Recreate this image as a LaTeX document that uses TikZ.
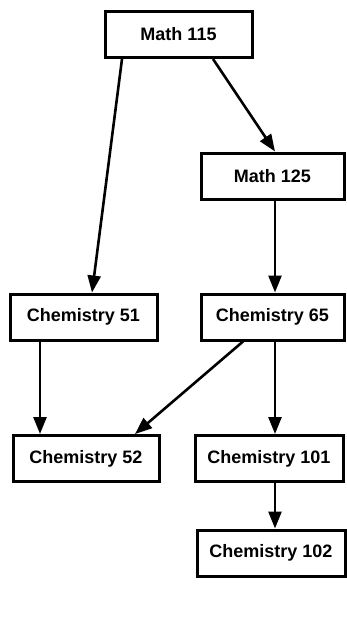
\documentclass[tikz,border=0pt]{standalone}
\usepackage{fontspec}
\setmainfont{Liberation Sans}
\usepackage{tikz}
\usetikzlibrary{arrows.meta}

\begin{document}
\begin{tikzpicture}[x=1pt,y=-1pt,
  course/.style={draw,line width=3pt,minimum height=46pt,inner sep=0pt,font=\bfseries\fontsize{18}{20}\selectfont},
  prereq/.style={line width=2.6pt,-{Triangle[length=17pt,width=13pt]}}]
      \useasboundingbox (0,0) rectangle (346,619);
      \node[course,minimum width=147pt](m115) at (178.5,34.5){Math 115};
      \node[course,minimum width=143pt](m125) at (272.5,176){Math 125};
      \node[course,minimum width=147pt](c51) at (83.5,317){Chemistry 51};
      \node[course,minimum width=143pt](c65) at (272.5,317){Chemistry 65};
      \node[course,minimum width=146pt](c52) at (86,458.5){Chemistry 52};
      \node[course,minimum width=148pt](c101) at (269,458.5){Chemistry 101};
      \node[course,minimum width=148pt](c102) at (271,553){Chemistry 102};
      \draw[prereq] ([xshift=-56.5pt]m115.south) -- ([xshift=8.5pt]c51.north);
      \draw[prereq] ([xshift=34.5pt]m115.south) -- ([xshift=2.5pt]m125.north);
      \draw[prereq] ([xshift=2.5pt]m125.south) -- ([xshift=2.5pt]c65.north);
      \draw[prereq] ([xshift=-43.5pt]c51.south) -- ([xshift=-46pt]c52.north);
      \draw[prereq] ([xshift=-29.5pt]c65.south) -- ([xshift=49pt]c52.north);
      \draw[prereq] ([xshift=2.5pt]c65.south) -- ([xshift=6pt]c101.north);
      \draw[prereq] ([xshift=6pt]c101.south) -- ([xshift=4pt]c102.north);
    \end{tikzpicture}
\end{document}
